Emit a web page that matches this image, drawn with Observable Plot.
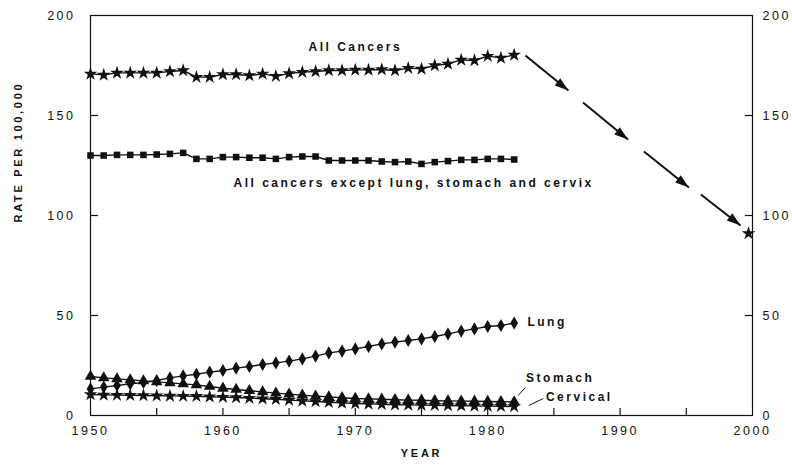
<!DOCTYPE html>
<html>
<head>
<meta charset="utf-8">
<script src="https://cdn.jsdelivr.net/npm/d3@7"></script>
<script src="https://cdn.jsdelivr.net/npm/@observablehq/plot@0.6"></script>
<style>
  html, body { margin: 0; padding: 0; background: #fff; }
  svg text { font-family: "Liberation Sans", Arial, sans-serif; }
  .chart .tick-lbl text { letter-spacing: 2.5px; }
  .chart .ylab text, .chart .xlab text { letter-spacing: 2.7px; }
</style>
</head>
<body>
<div id="chart"></div>
<script>
const years = d3.range(1950, 1983);

const allCancers = [170.8, 170.3, 171.3, 171.3, 171.3, 171.3, 172, 172.5, 169.2, 169.2,
  170.5, 170.5, 170, 170.8, 169.7, 171, 171.7, 172, 172.5, 172.5,
  172.8, 172.8, 173, 172.5, 173.7, 173.3, 175, 175.8, 177.8, 177.5,
  179.7, 178.8, 180.3];

const exceptLSC = [130, 130, 130.3, 130.3, 130.3, 130.5, 130.8, 131.3, 128.3, 128.3,
  129.2, 129.2, 128.9, 128.9, 128.3, 129.2, 129.5, 129.5, 127.5, 127.5,
  127.5, 127.5, 127, 126.7, 127, 125.8, 126.7, 127.2, 127.8, 127.8,
  128.3, 128.3, 128];

const lung = [13.3, 14.2, 15, 15.8, 16.5, 17.5, 18.8, 19.8, 20.6, 21.7,
  22.5, 23.7, 24.5, 25.5, 26.3, 27.2, 28.3, 29.7, 31.3, 32.2,
  33.3, 34.5, 35.8, 36.7, 37.5, 38.3, 39.5, 40.8, 42.2, 43.3,
  44.5, 45, 46.2];

const stomach = [19.5, 18.8, 18.3, 17.8, 17.3, 16.8, 16.3, 15.8, 15.3, 14.5,
  13.6, 13, 12.4, 11.8, 11.2, 10.7, 10.2, 9.7, 9.3, 8.9,
  8.5, 8.3, 8.1, 7.9, 7.7, 7.6, 7.4, 7.3, 7.2, 7.1,
  7, 6.9, 6.8];

const cervical = [10.5, 10.3, 10.2, 10.1, 10, 9.9, 9.8, 9.7, 9.6, 9.4,
  9.2, 9, 8.7, 8.4, 8.1, 7.7, 7.3, 7, 6.6, 6.3,
  6, 5.8, 5.6, 5.4, 5.3, 5.2, 5.1, 5, 4.9, 4.8,
  4.7, 4.6, 4.5];

// projected value shown at the right edge
const projection = [{year: 1999.7, value: 91}];
// dashed-arrow pieces
const arrowSegments = [
  {x1: 1982.85, y1: 180, x2: 1986.1, y2: 162.5},
  {x1: 1987.2, y1: 156.5, x2: 1990.6, y2: 138},
  {x1: 1991.8, y1: 132, x2: 1995.2, y2: 114},
  {x1: 1996.1, y1: 110.5, x2: 1999.1, y2: 95}
];

const centeredLabels = [{x: 1970, y: 184, text: "All Cancers"}];
const startLabels = [
  {x: 1960.8, y: 116, text: "All cancers except lung, stomach and cervix"},
  {x: 1983, y: 46.5, text: "Lung"},
  {x: 1982.9, y: 18.5, text: "Stomach"},
  {x: 1984.4, y: 9, text: "Cervical"}
];
const leaders = [
  {x1: 1982.85, y1: 14, x2: 1982.3, y2: 10},
  {x1: 1984.2, y1: 8.5, x2: 1983.1, y2: 5}
];

const xTicks = d3.range(1950, 2001, 5);
const xInnerTicks = d3.range(1955, 2000, 5);
const yTicks = [0, 50, 100, 150, 200];
const yInnerTicks = [50, 100, 150];
const xLabel = "YEAR";
const yLabel = "RATE PER 100,000";

const toRows = (vals) => years.map((year, i) => ({year, value: vals[i]}));
const series = [
  {rows: toRows(allCancers), symbol: "star", r: 4.3},
  {rows: toRows(exceptLSC), symbol: "square", r: 3.7},
  {rows: toRows(lung), symbol: "diamond", r: 4},
  {rows: toRows(stomach), symbol: "triangle", r: 4.3},
  {rows: toRows(cervical), symbol: "star", r: 4.3}
];

const marks = [];
for (const s of series) {
  marks.push(Plot.line(s.rows, {x: "year", y: "value", stroke: "#111", strokeWidth: 1.4}));
  marks.push(Plot.dot(s.rows, {x: "year", y: "value", symbol: s.symbol, r: s.r, fill: "#111", stroke: "none"}));
}

const W = 792, H = 465, ML = 90, MR = 40, MT = 15, MB = 50;
const innerW = W - ML - MR, innerH = H - MT - MB;
const noText = () => "";

const chart = Plot.plot({
  width: W,
  height: H,
  marginLeft: ML,
  marginRight: MR,
  marginTop: MT,
  marginBottom: MB,
  className: "chart",
  style: {fontFamily: "Liberation Sans, Arial, sans-serif", fontSize: "12px", color: "#111", background: "#fff"},
  x: {domain: [1950, 2000]},
  y: {domain: [0, 200]},
  marks: [
    Plot.frame({stroke: "#111", strokeWidth: 1.2}),
    // tick labels
    Plot.axisY({anchor: "left", ticks: yTicks, tickSize: 0, tickPadding: 15, label: null,
      tickFormat: d => String(d), className: "tick-lbl", fontSize: 12.5}),
    Plot.axisY({anchor: "right", ticks: yTicks, tickSize: 0, tickPadding: 10, label: null,
      tickFormat: d => String(d), className: "tick-lbl", fontSize: 12.5}),
    Plot.axisX({ticks: xTicks, tickSize: 0, tickPadding: 11, label: null,
      tickFormat: d => d % 10 ? "" : String(d), className: "tick-lbl", fontSize: 12.5}),
    // inward tick marks (opposite-side axes shifted across the frame)
    Plot.axisY({anchor: "right", ticks: yInnerTicks, tickSize: 7, dx: -innerW, label: null,
      tickFormat: noText, stroke: "#111", strokeWidth: 1.2}),
    Plot.axisY({anchor: "left", ticks: yInnerTicks, tickSize: 7, dx: innerW, label: null,
      tickFormat: noText, stroke: "#111", strokeWidth: 1.2}),
    Plot.axisX({anchor: "top", ticks: xInnerTicks, tickSize: 8, dy: innerH, label: null,
      tickFormat: noText, stroke: "#111", strokeWidth: 1.2}),
    ...marks,
    Plot.link(arrowSegments, {x1: "x1", y1: "y1", x2: "x2", y2: "y2", stroke: "#111", strokeWidth: 2}),
    Plot.vector(arrowSegments, {x: "x2", y: "y2", shape: "spike", anchor: "end", length: 14, r: 4.5,
      rotate: 128, fill: "#111", stroke: "none"}),
    Plot.dot(projection, {x: "year", y: "value", symbol: "star", r: 4.3, fill: "#111"}),
    Plot.link(leaders, {x1: "x1", y1: "y1", x2: "x2", y2: "y2", stroke: "#111", strokeWidth: 1}),
    Plot.text(centeredLabels, {x: "x", y: "y", text: "text", textAnchor: "middle",
      fontWeight: "bold", fontSize: 12, fill: "#111", className: "tick-lbl"}),
    Plot.text(startLabels, {x: "x", y: "y", text: "text", textAnchor: "start",
      fontWeight: "bold", fontSize: 12, fill: "#111", className: "tick-lbl"}),
    Plot.text([yLabel], {text: d => d, frameAnchor: "left", dx: -72, dy: 7, rotate: -90,
      fontWeight: "bold", fontSize: 11, fill: "#111", className: "ylab"}),
    Plot.text([xLabel], {text: d => d, frameAnchor: "bottom", dx: 0, dy: 41,
      fontWeight: "bold", fontSize: 11, fill: "#111", className: "xlab"})
  ]
});

document.getElementById("chart").appendChild(chart);
</script>
</body>
</html>
